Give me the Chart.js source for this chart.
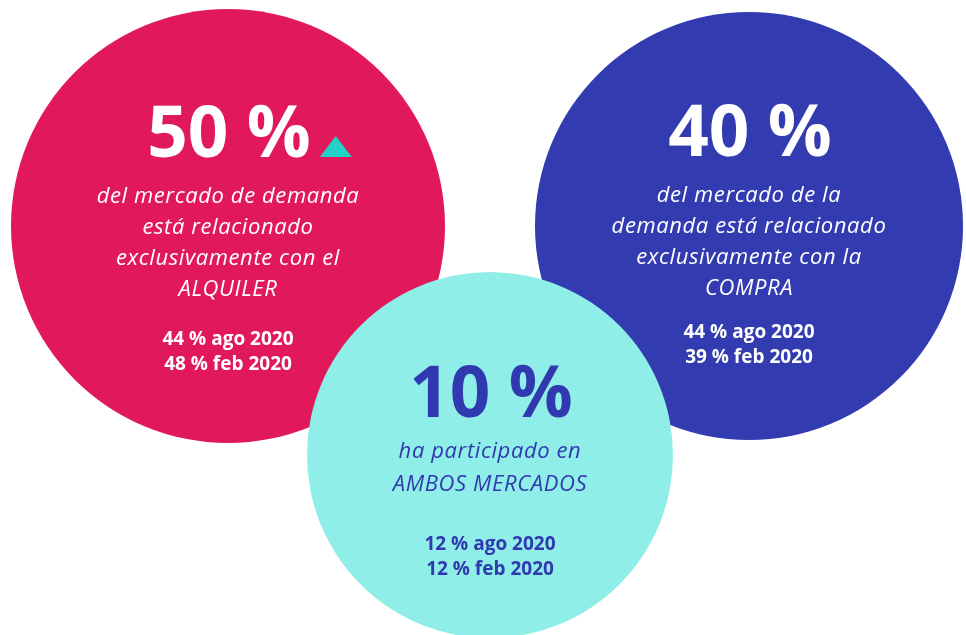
<!DOCTYPE html>
<html>
<head>
<meta charset="utf-8">
<script src="https://cdn.jsdelivr.net/npm/chart.js@4/dist/chart.umd.min.js"></script>
<style>
    html, body { margin: 0; padding: 0; background: #ffffff; }
    #chartContainer { position: relative; width: 966px; height: 635px; }
</style>
</head>
<body>
<div id="chartContainer"><canvas id="marketChart"></canvas></div>
<script>
// Data
const markets = ['ALQUILER', 'COMPRA', 'AMBOS MERCADOS'];
const shares = [50, 40, 10];          // % actual
const sharesAgo2020 = [44, 44, 12];   // % ago 2020
const sharesFeb2020 = [48, 39, 12];   // % feb 2020
const descriptions = [
    ['del mercado de demanda', 'está relacionado', 'exclusivamente con el'],
    ['del mercado de la', 'demanda está relacionado', 'exclusivamente con la'],
    ['ha participado en']
];
// bubble placement (chart units = px of the 966x635 canvas)
const bubbleX = [228, 749, 490];
const bubbleY = [226, 226, 455];
const bubbleR = [217, 214, 183];

const circleColors = ['#e1195b', '#323bb0', '#8feee7'];
const textColors = ['#ffffff', '#ffffff', '#3139b0'];
const triangleColor = '#22d3c5';

// baseline offsets from the circle centre: big number, first text line, line step, first small line, small step
const textLayout = [
    { big: -69, desc: -23, step: 31, small: 119, smallStep: 25 },
    { big: -70, desc: -24, step: 31, small: 112, smallStep: 25 },
    { big: -38, desc: 3, step: 33, small: 95, smallStep: 25 }
];

const circleText = {
    id: 'circleText',
    afterDatasetsDraw(chart) {
        const ctx = chart.ctx;
        const meta = chart.getDatasetMeta(0);
        ctx.save();
        ctx.textAlign = 'center';
        ctx.textBaseline = 'alphabetic';
        meta.data.forEach((pt, i) => {
            const cx = pt.x;
            const cy = pt.y;
            const lay = textLayout[i];
            ctx.fillStyle = textColors[i];

            // big percentage
            ctx.letterSpacing = '0px';
            ctx.font = 'bold 71px "Open Sans"';
            const big = shares[i] + ' %';
            ctx.fillText(big, cx + 1, cy + lay.big);

            // up arrow next to the rental share
            if (i === 0) {
                const w = ctx.measureText(big).width;
                const tx = cx + 1 + w / 2 + 25;
                const by = cy + lay.big;
                ctx.fillStyle = triangleColor;
                ctx.beginPath();
                ctx.moveTo(tx - 16, by);
                ctx.lineTo(tx + 16, by);
                ctx.lineTo(tx, by - 21);
                ctx.closePath();
                ctx.fill();
                ctx.fillStyle = textColors[i];
            }

            // italic description
            ctx.letterSpacing = '0.6px';
            ctx.font = 'italic 22px "Open Sans"';
            const lines = descriptions[i].concat([markets[i]]);
            lines.forEach((line, k) => {
                ctx.fillText(line, cx, cy + lay.desc + k * lay.step);
            });

            // previous periods
            ctx.letterSpacing = '0px';
            ctx.font = 'bold 19px "Open Sans"';
            ctx.fillText(sharesAgo2020[i] + ' % ago 2020', cx, cy + lay.small);
            ctx.fillText(sharesFeb2020[i] + ' % feb 2020', cx, cy + lay.small + lay.smallStep);
        });
        ctx.restore();
    }
};

new Chart(document.getElementById('marketChart'), {
    type: 'bubble',
    data: {
        labels: markets,
        datasets: [{
            label: 'Mercado de demanda',
            data: markets.map((m, i) => ({ x: bubbleX[i], y: bubbleY[i], r: bubbleR[i] })),
            backgroundColor: circleColors,
            hoverBackgroundColor: circleColors,
            borderWidth: 0,
            hoverBorderWidth: 0,
            clip: false
        }]
    },
    options: {
        responsive: true,
        maintainAspectRatio: false,
        animation: false,
        events: [],
        layout: { padding: 0, autoPadding: false },
        plugins: {
            legend: { display: false },
            tooltip: { enabled: false }
        },
        scales: {
            x: { type: 'linear', min: 0, max: 966, display: false },
            y: { type: 'linear', min: 0, max: 635, reverse: true, display: false }
        }
    },
    plugins: [circleText]
});
</script>
</body>
</html>
